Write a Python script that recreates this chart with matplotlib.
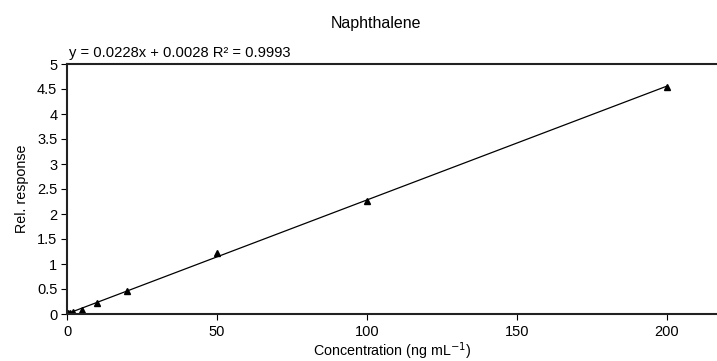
import numpy as np
import matplotlib.pyplot as plt

plt.rcParams['font.family'] = ['Liberation Sans', 'DejaVu Sans']

conc = [0.5, 1, 2, 5, 10, 20, 50, 100, 200]
response = [0.012, 0.025, 0.045, 0.09, 0.22, 0.46, 1.22, 2.26, 4.55]
equation = "y = 0.0228x + 0.0028 R² = 0.9993"


def main():
    fig = plt.figure(figsize=(7.17, 3.61), dpi=100)
    ax = fig.add_axes([67 / 717, 47 / 361, 650 / 717, 250 / 361])

    slope, intercept = np.polyfit(conc, response, 1)
    xfit = np.array([0, max(conc)])
    ax.plot(xfit, slope * xfit + intercept, color='black', lw=0.9)
    ax.plot(conc, response, linestyle='none', marker='^', color='black', ms=4.5)

    ax.set_xlim(0, 216.7)
    ax.set_ylim(0, 5)
    ax.set_xticks([0, 50, 100, 150, 200])
    ax.set_yticks(np.arange(0, 5.01, 0.5))
    ax.set_yticklabels(['0', '0.5', '1', '1.5', '2', '2.5', '3', '3.5', '4', '4.5', '5'])
    ax.tick_params(direction='out', length=4, width=0.8, labelsize=10.5, colors='black')
    ax.tick_params(axis='x', pad=4)
    ax.tick_params(axis='y', pad=3)
    for side in ['left', 'bottom', 'top']:
        ax.spines[side].set_linewidth(1.5)
        ax.spines[side].set_color('#222222')
    ax.spines['right'].set_visible(False)

    ax.set_xlabel("Concentration (ng mL$^{-1}$)", fontsize=10.3, labelpad=1)
    ax.set_ylabel("Rel. response", fontsize=10.3, labelpad=6)
    fig.text(376 / 717, 1 - 28 / 361, "Naphthalene", ha='center', va='baseline', fontsize=11.5)
    fig.text(69 / 717, 1 - 57 / 361, equation, ha='left', va='baseline', fontsize=10.6)

    fig.savefig("out.png", dpi=100)


if __name__ == "__main__":
    main()
